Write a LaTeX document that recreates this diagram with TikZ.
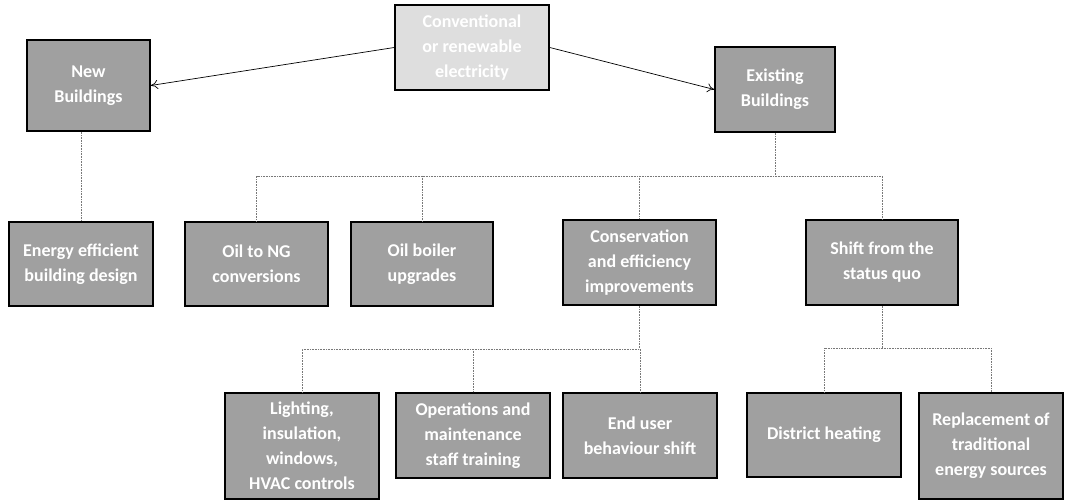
\documentclass[tikz,border=0pt]{standalone}
\usepackage{fontspec}
\setmainfont{Carlito}
\usetikzlibrary{arrows.meta}

\begin{document}
\begin{tikzpicture}[x=1pt,y=-1pt,
  box/.style={draw=black,line width=1.6pt,fill=boxGray,text=white,align=center,
    inner sep=0pt,font=\fontsize{18}{25}\selectfont\bfseries},
  topbox/.style={box,fill=topGray},
  link/.style={draw=black,line width=0.7pt,-{To[length=7pt,width=9pt]}},
  tree/.style={draw=lineGray,line width=0.6pt,densely dotted}]
\definecolor{boxGray}{RGB}{160,160,160}
\definecolor{topGray}{RGB}{222,222,222}
\definecolor{lineGray}{RGB}{120,120,120}
\path[use as bounding box,fill=white] (0,0) rectangle (1066,500);

% top level
\node[topbox,minimum width=154,minimum height=85] (top) at (472,47.5) {Conventional\\or renewable\\electricity};
\node[box,minimum width=123,minimum height=91] (newb) at (88.5,85.5) {New\\Buildings};
\node[box,minimum width=120,minimum height=85] (exb) at (775,89.5) {Existing\\Buildings};

% second row
\node[box,minimum width=144,minimum height=84] (eeb) at (81,264) {Energy efficient\\building design};
\node[box,minimum width=143,minimum height=84] (oilng) at (256.5,264) {Oil to NG\\conversions};
\node[box,minimum width=142,minimum height=84] (boiler) at (422,264) {Oil boiler\\upgrades};
\node[box,minimum width=153,minimum height=85] (cons) at (639.5,262.5) {Conservation\\and efficiency\\improvements};
\node[box,minimum width=152,minimum height=85] (shift) at (882,262.5) {Shift from the\\status quo};

% third row
\node[box,minimum width=154,minimum height=106] (light) at (302,446) {Lighting,\\insulation,\\windows,\\HVAC controls};
\node[box,minimum width=154,minimum height=85] (ops) at (473,435.5) {Operations and\\maintenance\\staff training};
\node[box,minimum width=154,minimum height=85] (endu) at (640,435.5) {End user\\behaviour shift};
\node[box,minimum width=154,minimum height=84] (dist) at (824,435) {District heating};
\node[box,minimum width=144,minimum height=106] (repl) at (991,446) {Replacement of\\traditional\\energy sources};

\coordinate (busA) at (0,176);
\coordinate (busB) at (0,349);
\coordinate (busC) at (0,348);

% arrows
\draw[link] (top.west) -- (newb.east);
\draw[link] (top.east) -- (exb.west);

% tree lines
\draw[tree] (eeb.north |- newb.south) -- (eeb.north);
\draw[tree] (exb.south) -- (exb.south |- busA);
\draw[tree] (oilng.north) |- (shift.north |- busA) -- (shift.north);
\draw[tree] (boiler.north |- busA) -- (boiler.north);
\draw[tree] (cons.north |- busA) -- (cons.north);
\draw[tree] (cons.south) -- (cons.south |- busB);
\draw[tree] (light.north) |- (endu.north |- busB) -- (endu.north);
\draw[tree] (ops.north |- busB) -- (ops.north);
\draw[tree] (shift.south) -- (shift.south |- busC);
\draw[tree] (dist.north) |- (repl.north |- busC) -- (repl.north);
\end{tikzpicture}
\end{document}
